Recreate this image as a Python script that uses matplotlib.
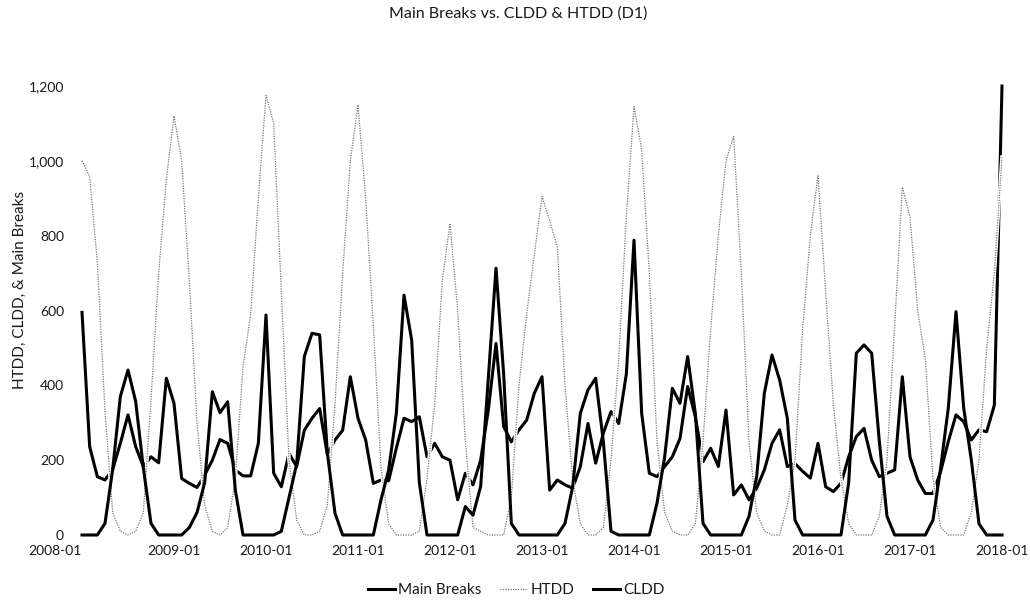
import matplotlib.pyplot as plt
import numpy as np
import pandas as pd
from matplotlib.ticker import FuncFormatter

# monthly series, 2008-01 .. 2018-01
months = pd.date_range('2008-01-01', '2018-01-01', freq='MS')
tick_labels = [f'{y}-01' for y in range(2008, 2019)]

main_breaks = [
    595, 236, 156, 147, 175, 245, 321, 236, 183, 209, 193, 419,   # 2008
    352, 151, 138, 127, 160, 200, 255, 245, 174, 158, 158, 245,   # 2009
    588, 165, 129, 218, 183, 280, 312, 338, 215, 254, 280, 423,   # 2010
    312, 254, 138, 147, 145, 232, 312, 303, 316, 209, 245, 209,   # 2011
    200, 94, 165, 134, 200, 334, 512, 290, 249, 281, 307, 379,    # 2012
    423, 120, 147, 134, 125, 183, 298, 192, 272, 330, 298, 430,   # 2013
    788, 325, 165, 156, 183, 209, 258, 397, 316, 196, 232, 183,   # 2014
    334, 107, 134, 94, 125, 174, 245, 281, 183, 191, 170, 152,    # 2015
    245, 129, 116, 138, 209, 263, 285, 200, 156, 165, 174, 423,   # 2016
    209, 147, 111, 111, 170, 250, 321, 303, 254, 281, 276, 347,   # 2017
    1200,                                                         # 2018
]

htdd = [
    1000, 958, 730, 330, 60, 10, 0, 10, 60, 360, 700, 950,
    1120, 1000, 680, 300, 80, 10, 0, 20, 150, 450, 590, 900,
    1175, 1100, 650, 200, 40, 0, 0, 10, 80, 350, 700, 1000,
    1150, 900, 560, 180, 30, 0, 0, 0, 10, 150, 350, 680,
    833, 600, 250, 20, 10, 0, 0, 0, 100, 400, 590, 750,
    905, 840, 770, 400, 150, 30, 0, 0, 20, 200, 470, 850,
    1145, 1030, 700, 250, 60, 10, 0, 0, 30, 250, 550, 800,
    1000, 1065, 700, 250, 60, 10, 0, 0, 80, 200, 550, 800,
    960, 650, 350, 150, 30, 0, 0, 0, 50, 200, 560, 930,
    850, 600, 470, 150, 20, 0, 0, 0, 60, 200, 500, 700,
    1010,
]

cldd = [
    0, 0, 0, 31, 175, 370, 441, 357, 180, 31, 0, 0,
    0, 0, 20, 60, 140, 383, 327, 356, 120, 0, 0, 0,
    0, 0, 10, 100, 190, 477, 539, 535, 220, 58, 0, 0,
    0, 0, 0, 94, 174, 325, 641, 521, 140, 0, 0, 0,
    0, 0, 76, 53, 130, 420, 713, 430, 31, 0, 0, 0,
    0, 0, 0, 31, 129, 325, 388, 419, 250, 10, 0, 0,
    0, 0, 0, 85, 209, 392, 352, 477, 325, 31, 0, 0,
    0, 0, 0, 50, 156, 379, 481, 414, 312, 40, 0, 0,
    0, 0, 0, 0, 140, 486, 508, 486, 250, 50, 0, 0,
    0, 0, 0, 40, 180, 340, 597, 340, 200, 30, 0, 0,
    0,
]

plt.rcParams['font.family'] = ['Lato', 'DejaVu Sans']
text_col = '#1a1a1a'

fig = plt.figure(figsize=(10.3, 6.06), dpi=100)
ax = fig.add_axes([82 / 1030, 71 / 606, 920 / 1030, 449 / 606])

x = np.arange(len(months))
ax.plot(x, main_breaks, color='black', lw=2.2, label='Main Breaks', zorder=2, clip_on=False)
# white edge under the dotted line (cuts the Main Breaks line where they cross)
ax.plot(x, htdd, color='white', lw=2.6, zorder=3, clip_on=False)
ax.plot(x, htdd, color='#7a7a7a', lw=0.9, ls=(0, (1, 1)), label='HTDD', zorder=4, clip_on=False)
ax.plot(x, cldd, color='black', lw=2.2, label='CLDD', zorder=5, clip_on=False)

ax.set_xlim(0, 120)
ax.set_ylim(0, 1200)
for s in ax.spines.values():
    s.set_visible(False)

ax.set_xticks(range(0, 121, 12))
ax.set_xticklabels(tick_labels)
ax.get_xticklabels()[0].set_ha('right')
ax.set_yticks(range(0, 1201, 200))
ax.yaxis.set_major_formatter(FuncFormatter(lambda v, p: f'{int(v):,}'))
ax.tick_params(axis='x', length=0, pad=7, labelsize=10, colors=text_col)
ax.tick_params(axis='y', length=0, pad=13, labelsize=10, colors=text_col)

fig.text(20 / 1030, 1 - 290 / 606, 'HTDD, CLDD, & Main Breaks', rotation=90,
         ha='center', va='center', fontsize=11, color=text_col)
fig.text(518 / 1030, 1 - 14 / 606, 'Main Breaks vs. CLDD & HTDD (D1)',
         ha='center', va='center', fontsize=11.5, color=text_col)

fig.legend(loc='center', bbox_to_anchor=(516 / 1030, 1 - 590 / 606), ncol=3,
           frameon=False, fontsize=11, handlelength=1.8, handletextpad=0.2,
           columnspacing=1.2, labelcolor=text_col)

fig.savefig('out.png', dpi=100)
